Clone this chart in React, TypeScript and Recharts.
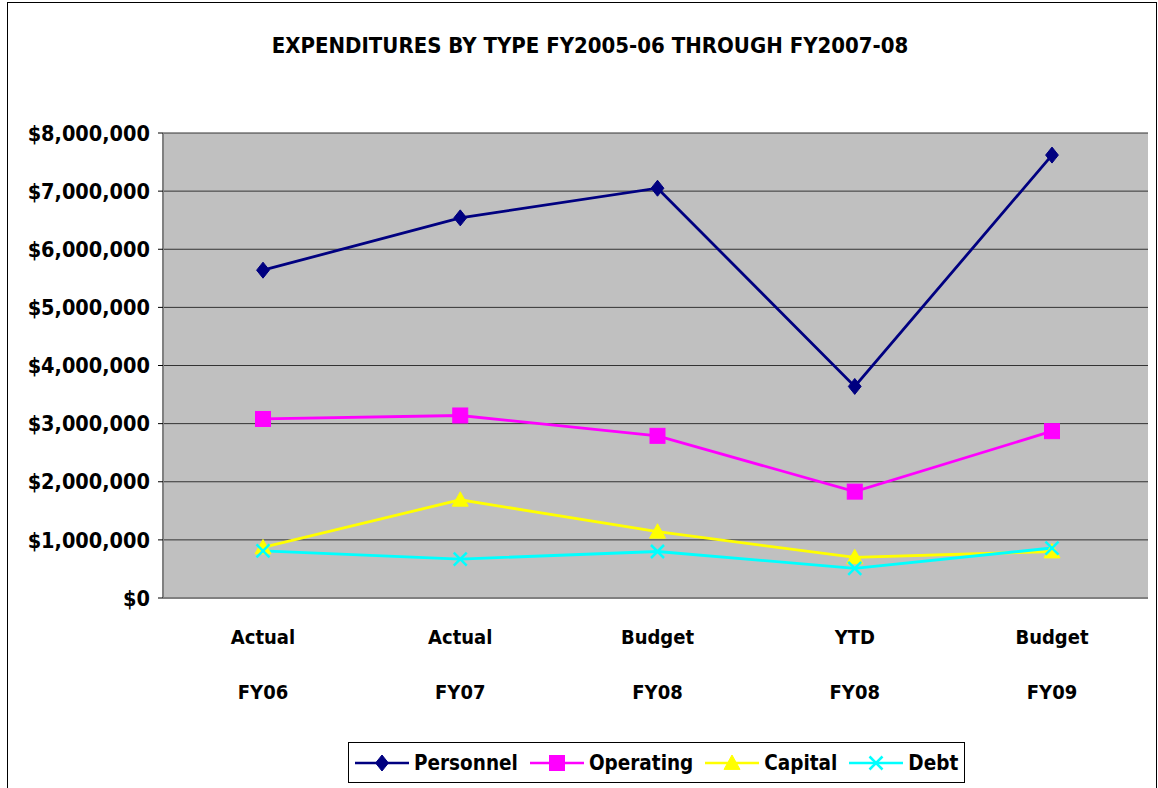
import React from 'react';
import { LineChart, Line, XAxis, YAxis, CartesianGrid, Legend } from 'recharts';

const periodLabels = ['Actual', 'Actual', 'Budget', 'YTD', 'Budget'];
const yearLabels = ['FY06', 'FY07', 'FY08', 'FY08', 'FY09'];
const personnel = [5640000, 6540000, 7050000, 3640000, 7620000];
const operating = [3080000, 3140000, 2790000, 1830000, 2870000];
const capital = [870000, 1690000, 1140000, 700000, 800000];
const debt = [810000, 670000, 800000, 510000, 860000];
const yTicks = [0, 1000000, 2000000, 3000000, 4000000, 5000000, 6000000, 7000000, 8000000];

const title = 'EXPENDITURES BY TYPE FY2005-06 THROUGH FY2007-08';

const data = periodLabels.map((p, i) => ({
  cat: p + ' ' + yearLabels[i],
  period: p,
  year: yearLabels[i],
  Personnel: personnel[i],
  Operating: operating[i],
  Capital: capital[i],
  Debt: debt[i],
}));

const FONT = "'DejaVu Sans Condensed', 'DejaVu Sans', sans-serif";

const series = [
  { key: 'Personnel', color: '#000080', shape: 'diamond' },
  { key: 'Operating', color: '#FF00FF', shape: 'square' },
  { key: 'Capital', color: '#FFFF00', shape: 'triangle' },
  { key: 'Debt', color: '#00FFFF', shape: 'x' },
];

function Marker({ cx, cy, shape, color }: any) {
  if (cx == null || cy == null) return null;
  if (shape === 'diamond') {
    const r = 8;
    return <polygon points={`${cx},${cy - r} ${cx + r * 0.8},${cy} ${cx},${cy + r} ${cx - r * 0.8},${cy}`} fill={color} stroke={color} />;
  }
  if (shape === 'square') {
    const r = 7.5;
    return <rect x={cx - r} y={cy - r} width={2 * r} height={2 * r} fill={color} stroke={color} />;
  }
  if (shape === 'triangle') {
    const r = 8;
    return <polygon points={`${cx},${cy - r} ${cx + r},${cy + r * 0.8} ${cx - r},${cy + r * 0.8}`} fill={color} stroke={color} />;
  }
  const r = 6.5;
  return (
    <g stroke={color} strokeWidth={2.5}>
      <line x1={cx - r} y1={cy - r} x2={cx + r} y2={cy + r} />
      <line x1={cx - r} y1={cy + r} x2={cx + r} y2={cy - r} />
    </g>
  );
}

function XTick(props: any) {
  const { x, y, index } = props;
  return (
    <text x={x} y={y} textAnchor="middle" fontFamily={FONT} fontWeight="bold" fontSize={20} fill="#000">
      <tspan x={x} dy={38}>{periodLabels[index]}</tspan>
      <tspan x={x} dy={55}>{yearLabels[index]}</tspan>
    </text>
  );
}

function LegendContent() {
  return (
    <div style={{ height: 50, paddingTop: 4, boxSizing: 'border-box' }}>
      <div
        style={{
          height: 41,
          border: '1px solid #000',
          boxSizing: 'border-box',
          display: 'flex',
          alignItems: 'center',
          paddingLeft: 5,
          fontFamily: FONT,
          fontWeight: 'bold',
          fontSize: 20.5,
          whiteSpace: 'nowrap',
        }}
      >
        {series.map((s) => (
          <div key={s.key} style={{ display: 'flex', alignItems: 'center', marginRight: 11 }}>
            <svg width={56} height={20}>
              <line x1={1} y1={10} x2={55} y2={10} stroke={s.color} strokeWidth={2.5} />
              <Marker cx={28} cy={10} shape={s.shape} color={s.color} />
            </svg>
            <span style={{ marginLeft: 4 }}>{s.key}</span>
          </div>
        ))}
      </div>
    </div>
  );
}

export default function App() {
  return (
    <div style={{ position: 'absolute', left: 0, top: 0, width: 1158, height: 788, background: '#fff' }}>
      <svg style={{ position: 'absolute', left: 0, top: 0 }} width={1158} height={788}>
        <rect x={7.5} y={2.5} width={1149} height={800} fill="none" stroke="#000" strokeWidth={1} />
        <text x={590} y={53} textAnchor="middle" fontFamily={FONT} fontWeight="bold" fontSize={22} fill="#000">
          {title}
        </text>
      </svg>
      <div style={{ position: 'absolute', left: 0, top: 0 }}>
        <LineChart width={1158} height={788} data={data} margin={{ top: 133, right: 10, bottom: 0, left: 0 }}>
          <CartesianGrid vertical={false} fill="#C0C0C0" stroke="#333" strokeWidth={1} horizontalValues={yTicks} />
          <XAxis
            dataKey="cat"
            height={140}
            tick={<XTick />}
            tickLine={false}
            axisLine={{ stroke: '#808080', strokeWidth: 2 }}
            interval={0}
            padding={{ left: 100, right: 96 }}
          />
          <XAxis xAxisId="top" orientation="top" dataKey="cat" height={0} tick={false} tickLine={false} axisLine={{ stroke: '#808080', strokeWidth: 2 }} />
          <YAxis
            width={163}
            domain={[0, 8000000]}
            ticks={yTicks}
            interval={0}
            tickFormatter={(v: number) => '$' + v.toLocaleString('en-US')}
            tick={{ fontFamily: FONT, fontWeight: 'bold', fontSize: 21.5, fill: '#000' }}
            tickSize={5}
            tickMargin={8}
            tickLine={{ stroke: '#000' }}
            axisLine={{ stroke: '#808080', strokeWidth: 2 }}
          />
          <YAxis yAxisId="right" orientation="right" width={0} tick={false} tickLine={false} axisLine={{ stroke: '#808080', strokeWidth: 2 }} />
          {series.map((s) => (
            <Line
              key={s.key}
              dataKey={s.key}
              stroke={s.color}
              strokeWidth={2.8}
              isAnimationActive={false}
              dot={(p: any) => <Marker key={p.index} cx={p.cx} cy={p.cy} shape={s.shape} color={s.color} />}
              activeDot={false}
            />
          ))}
          <Legend
            verticalAlign="bottom"
            content={<LegendContent />}
            wrapperStyle={{ left: 348, width: 617, height: 50 }}
          />
        </LineChart>
      </div>
    </div>
  );
}
